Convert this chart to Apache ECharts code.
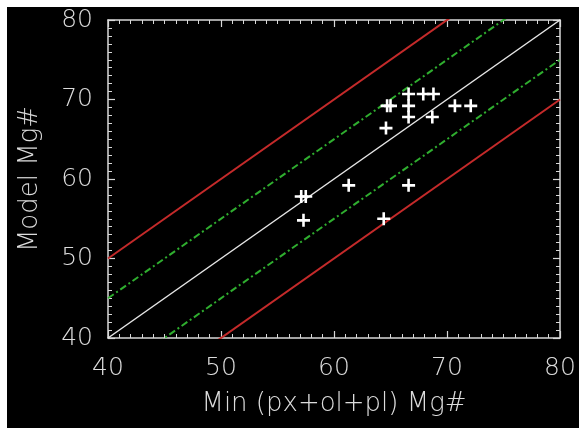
<!DOCTYPE html>
<html>
<head>
<meta charset="utf-8">
<script src="https://cdn.jsdelivr.net/npm/echarts@6/dist/echarts.min.js"></script>
<style>
html,body{margin:0;padding:0;background:#fff;}
#chart{width:579px;height:432px;}
</style>
</head>
<body>
<div id="chart"></div>
<script>
// Data
var minMg = [64.7, 65.0, 66.6, 66.6, 66.6, 67.9, 68.8, 68.7, 70.7, 72.1, 64.6, 61.3, 66.6, 57.1, 57.5, 57.3, 64.4];
var modelMg = [69.2, 69.2, 70.7, 69.2, 67.8, 70.7, 70.7, 67.8, 69.2, 69.2, 66.4, 59.2, 59.2, 57.8, 57.8, 54.8, 55.0];
var lineX = [40, 80];
var oneToOneOffset = [0];
var greenOffsets = [5, -5];
var redOffsets = [10, -10];
var axisTicks = [40, 50, 60, 70, 80];

var FONT = 'DejaVu Sans';
var TXT = '#dcdcdc';

function linePoints(off) {
  return lineX.map(function (x) { return [x, x + off]; });
}

var series = [];
redOffsets.forEach(function (o) {
  series.push({type: 'line', data: linePoints(o), symbol: 'none', silent: true, z: 2,
    lineStyle: {color: '#c42a2a', width: 2}});
});
greenOffsets.forEach(function (o) {
  series.push({type: 'line', data: linePoints(o), symbol: 'none', silent: true, z: 2,
    lineStyle: {color: '#2fae2f', width: 2, type: [7, 3, 2, 3]}});
});
oneToOneOffset.forEach(function (o) {
  series.push({type: 'line', data: linePoints(o), symbol: 'none', silent: true, z: 3,
    lineStyle: {color: '#e6e6e6', width: 1.5}});
});
series.push({
  type: 'scatter', z: 5,
  data: minMg.map(function (x, i) { return [x, modelMg[i]]; }),
  symbol: 'path://M4,0H6V4H10V6H6V10H4V6H0V4H4Z',
  symbolSize: 13,
  itemStyle: {color: '#ffffff', opacity: 1}
});

function baseAxis(extra) {
  var a = {
    type: 'value', min: axisTicks[0], max: axisTicks[axisTicks.length - 1], interval: 10,
    splitLine: {show: false},
    axisLine: {show: true, onZero: false, lineStyle: {color: '#d8d8d8', width: 1.5}},
    axisTick: {show: true, inside: true, length: 7, lineStyle: {color: '#d8d8d8', width: 1.2}},
    minorTick: {show: true, splitNumber: 10, length: 4, lineStyle: {color: '#d8d8d8', width: 1}},
    minorSplitLine: {show: false}
  };
  for (var k in extra) a[k] = extra[k];
  return a;
}

var chart = echarts.init(document.getElementById('chart'));
chart.setOption({
  backgroundColor: '#000000',
  animation: false,
  graphic: [
    {type: 'rect', shape: {x: 0, y: 0, width: 579, height: 7}, style: {fill: '#ffffff'}, z: 100},
    {type: 'rect', shape: {x: 0, y: 0, width: 7, height: 432}, style: {fill: '#ffffff'}, z: 100},
    {type: 'rect', shape: {x: 0, y: 428, width: 579, height: 4}, style: {fill: '#ffffff'}, z: 100}
  ],
  grid: {left: 108, right: 19, top: 20, bottom: 94, containLabel: false},
  xAxis: [
    baseAxis({position: 'bottom',
      name: 'Min (px+ol+pl) Mg#', nameLocation: 'middle', nameGap: 53,
      nameTextStyle: {color: TXT, fontFamily: FONT, fontSize: 26, fontWeight: 200},
      axisLabel: {color: TXT, fontFamily: FONT, fontSize: 25, fontWeight: 200, margin: 18}}),
    baseAxis({position: 'top', axisLabel: {show: false}})
  ],
  yAxis: [
    baseAxis({position: 'left',
      name: 'Model Mg#', nameLocation: 'middle', nameGap: 65,
      nameTextStyle: {color: TXT, fontFamily: FONT, fontSize: 26, fontWeight: 200},
      axisLabel: {color: TXT, fontFamily: FONT, fontSize: 25, fontWeight: 200, margin: 15}}),
    baseAxis({position: 'right', axisLabel: {show: false}})
  ],
  series: series
});
</script>
</body>
</html>
